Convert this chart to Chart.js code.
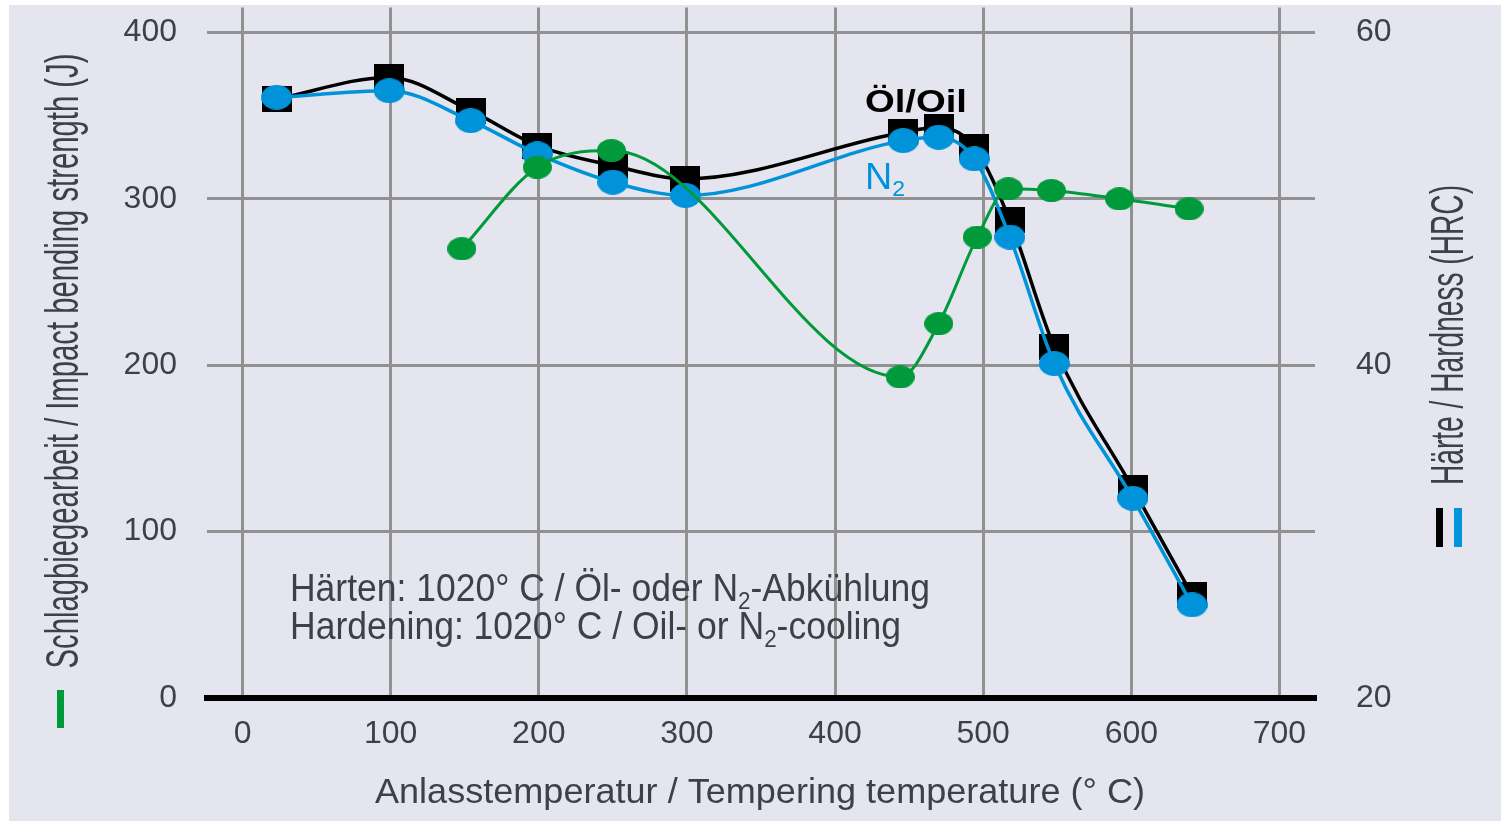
<!DOCTYPE html>
<html>
<head>
<meta charset="utf-8">
<script src="https://cdn.jsdelivr.net/npm/chart.js@4.4.1/dist/chart.umd.min.js"></script>
<style>
  html, body { margin: 0; padding: 0; background: #fff; }
  #wrap { width: 1501px; height: 821px; }
</style>
</head>
<body>
<div id="wrap"><canvas id="c" width="1501" height="821"></canvas></div>
<script>
// Anlasstemperatur (°C) der Härtekurven
const temps = [23, 99, 154, 199, 250, 299, 446, 470, 494, 518, 548, 601, 641];
// Härte HRC, Öl- bzw. N2-Abkühlung
const hardnessOil = [56.0, 57.3, 55.3, 53.2, 52.0, 51.2, 54.0, 54.3, 53.1, 48.7, 41.1, 32.6, 26.2];
const hardnessN2 = [56.1, 56.5, 54.7, 52.7, 51.0, 50.2, 53.5, 53.7, 52.4, 47.7, 40.1, 32.0, 25.6];
// Schlagbiegearbeit (J)
const impactTemps = [148, 199, 249, 444, 470, 496, 517, 546, 592, 639];
const impactWork = [270, 319, 329, 193, 225, 277, 306, 305, 300, 294];

const xTicks = [0, 100, 200, 300, 400, 500, 600, 700];
const impactTicks = [0, 100, 200, 300, 400];
const hardnessTicks = [20, 40, 60];

const FONT = '"Liberation Sans", Arial, sans-serif';
const TEXT = '#3f3f48';
const GREEN = '#009a3a';
const BLUE = '#0093d9';
const GRID = '#919191';

const pts = (xs, ys) => xs.map((x, i) => ({ x, y: ys[i] }));

function ellipseMark(w, h, color) {
  const c = document.createElement('canvas');
  c.width = w; c.height = h;
  const g = c.getContext('2d');
  g.fillStyle = color;
  g.beginPath();
  g.ellipse(w / 2, h / 2, w / 2, h / 2, 0, 0, Math.PI * 2);
  g.fill();
  return c;
}
function rectMark(w, h, color) {
  const c = document.createElement('canvas');
  c.width = w; c.height = h;
  const g = c.getContext('2d');
  g.fillStyle = color;
  g.fillRect(0, 0, w, h);
  return c;
}

// text squeezed to a given width, parts may be subscript
function drawParts(ctx, parts, x, baseline, width, size, color, weight) {
  ctx.save();
  ctx.fillStyle = color;
  ctx.textAlign = 'left';
  ctx.textBaseline = 'alphabetic';
  const fontOf = p => `${weight || 'normal'} ${p.sub ? Math.round(size * 0.62) : size}px ${FONT}`;
  let total = 0;
  const ws = parts.map(p => { ctx.font = fontOf(p); const w = ctx.measureText(p.t).width; total += w; return w; });
  ctx.translate(x, baseline);
  ctx.scale(width / total, 1);
  let cx = 0;
  parts.forEach((p, i) => {
    ctx.font = fontOf(p);
    ctx.fillText(p.t, cx, p.sub ? size * 0.2 : 0);
    cx += ws[i];
  });
  ctx.restore();
}
function drawVertical(ctx, text, cx, cy, length, size, color) {
  ctx.save();
  ctx.translate(cx, cy);
  ctx.rotate(-Math.PI / 2);
  drawParts(ctx, [{ t: text }], -length / 2, size * 0.36, length, size, color);
  ctx.restore();
}

const decor = {
  id: 'decor',
  beforeDraw(chart) {
    const ctx = chart.ctx;
    ctx.save();
    ctx.fillStyle = '#ffffff';
    ctx.fillRect(0, 0, chart.width, chart.height);
    ctx.fillStyle = '#e4e5ee';
    ctx.fillRect(9, 5, chart.width - 9, chart.height - 5);
    ctx.restore();
  },
  afterDraw(chart) {
    const ctx = chart.ctx;
    // Achsentitel
    drawVertical(ctx, 'Schlagbiegearbeit / Impact bending strength (J)', 61, 361, 615, 47, TEXT);
    drawVertical(ctx, 'Härte / Hardness (HRC)', 1446, 335, 300, 47, TEXT);
    drawParts(ctx, [{ t: 'Anlasstemperatur / Tempering temperature (° C)' }], 375, 803, 770, 35, TEXT);
    // Legendenbalken
    ctx.fillStyle = GREEN;
    ctx.fillRect(57, 690, 7, 38);
    ctx.fillStyle = '#000';
    ctx.fillRect(1436, 508, 7, 39);
    ctx.fillStyle = BLUE;
    ctx.fillRect(1454, 508, 8, 39);
    // Beschriftung
    drawParts(ctx, [{ t: 'Härten: 1020° C / Öl- oder N' }, { t: '2', sub: true }, { t: '-Abkühlung' }], 290, 601, 640, 38, TEXT);
    drawParts(ctx, [{ t: 'Hardening: 1020° C / Oil- or N' }, { t: '2', sub: true }, { t: '-cooling' }], 290, 639, 611, 38, TEXT);
    drawParts(ctx, [{ t: 'Öl/Oil' }], 865, 112, 102, 32, '#000', 'bold');
    drawParts(ctx, [{ t: 'N' }, { t: '2', sub: true }], 865, 189, 40, 36, BLUE);
  }
};

const tickFont = { family: FONT, size: 32 };

new Chart(document.getElementById('c'), {
  type: 'line',
  data: {
    datasets: [
      {
        label: 'Schlagbiegearbeit',
        data: pts(impactTemps, impactWork),
        yAxisID: 'y',
        borderColor: GREEN,
        backgroundColor: GREEN,
        borderWidth: 3,
        pointStyle: ellipseMark(29, 23, GREEN),
        cubicInterpolationMode: 'monotone'
      },
      {
        label: 'N2',
        data: pts(temps, hardnessN2),
        yAxisID: 'y2',
        borderColor: BLUE,
        backgroundColor: BLUE,
        borderWidth: 3.5,
        pointStyle: ellipseMark(31, 25, BLUE),
        cubicInterpolationMode: 'monotone'
      },
      {
        label: 'Öl',
        data: pts(temps, hardnessOil),
        yAxisID: 'y2',
        borderColor: '#000',
        backgroundColor: '#000',
        borderWidth: 3.5,
        pointStyle: rectMark(30, 26, '#000'),
        cubicInterpolationMode: 'monotone'
      }
    ]
  },
  options: {
    responsive: false,
    animation: false,
    devicePixelRatio: 1,
    layout: { padding: { top: 5, left: 0, right: 0, bottom: 0 } },
    plugins: { legend: { display: false }, tooltip: { enabled: false } },
    scales: {
      x: {
        type: 'linear',
        min: -24,
        max: 724,
        afterBuildTicks: s => { s.ticks = xTicks.map(v => ({ value: v })); },
        afterFit: s => { s.height = 123; s.paddingLeft = 0; s.paddingRight = 0; },
        grid: { color: GRID, lineWidth: 3, drawTicks: false },
        border: { display: true, color: '#000', width: 6 },
        ticks: { font: tickFont, color: TEXT, padding: 17, maxRotation: 0, autoSkip: false }
      },
      y: {
        position: 'left',
        min: 0,
        max: 415,
        afterBuildTicks: s => { s.ticks = impactTicks.map(v => ({ value: v })); },
        afterFit: s => { s.width = 207; s.paddingTop = 0; s.paddingBottom = 0; },
        grid: { color: GRID, lineWidth: 3, drawTicks: false },
        border: { display: false },
        ticks: { font: tickFont, color: TEXT, padding: 30 }
      },
      y2: {
        position: 'right',
        min: 20,
        max: 61.5,
        afterBuildTicks: s => { s.ticks = hardnessTicks.map(v => ({ value: v })); },
        afterFit: s => { s.width = 186; s.paddingTop = 0; s.paddingBottom = 0; },
        grid: { display: false },
        border: { display: false },
        ticks: { font: tickFont, color: TEXT, padding: 33 }
      }
    }
  },
  plugins: [decor]
});
</script>
</body>
</html>
